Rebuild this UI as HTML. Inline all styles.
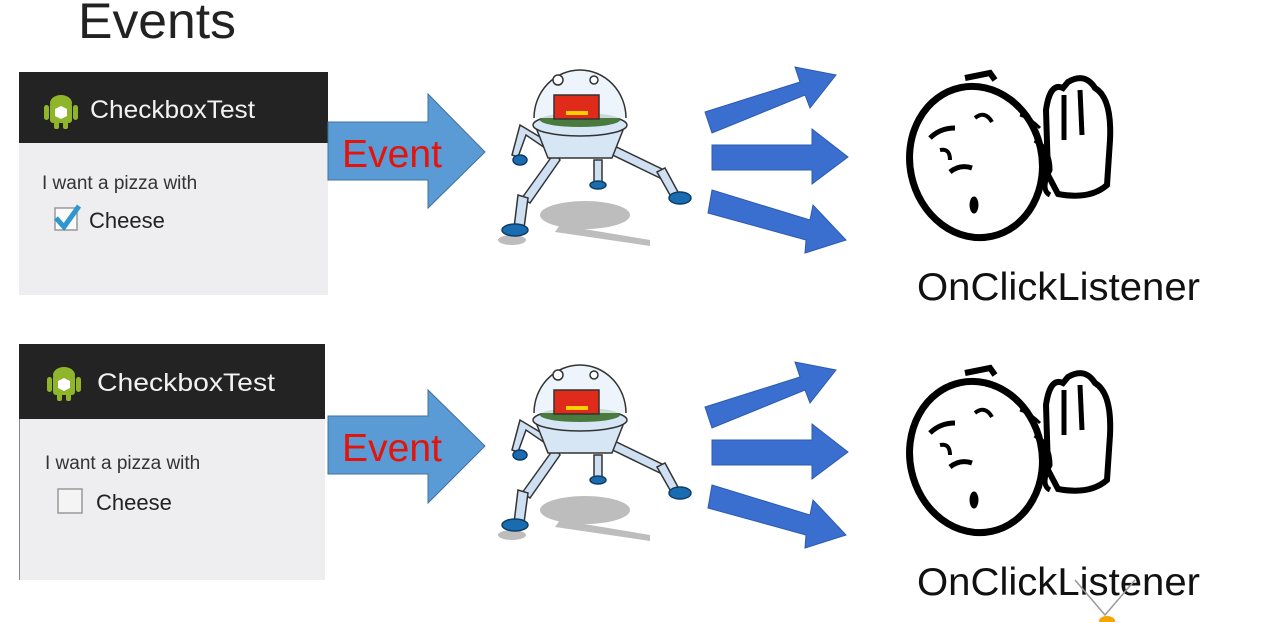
<!DOCTYPE html>
<html><head><meta charset="utf-8"><style>
html,body{margin:0;padding:0;background:#fff;}
svg{display:block;}
text{font-family:"Liberation Sans",sans-serif;}
</style></head><body>
<svg width="1278" height="622" viewBox="0 0 1278 622" xmlns="http://www.w3.org/2000/svg">
<defs>
<g id="robot">
  <ellipse cx="585" cy="215" rx="45" ry="14" fill="#bdbdbd"/>
  <path d="M560 225 L650 240 L650 246 L555 232Z" fill="#bdbdbd"/>
  <ellipse cx="512" cy="240" rx="14" ry="5" fill="#bdbdbd"/>
  <g stroke="#333" stroke-width="1.5" fill="#cfe0f3">
    <path d="M545 140 L520 125 L512 155 L518 157 L526 135 L545 148Z"/>
    <path d="M555 152 L522 198 L530 203 L560 160Z"/>
    <path d="M518 195 L514 228 L524 228 L528 198Z"/>
    <path d="M598 148 L660 178 L664 170 L602 140Z"/>
    <path d="M657 172 L670 195 L678 192 L665 168Z"/>
    <rect x="594" y="160" width="8" height="24"/>
  </g>
  <g fill="#1a6cb0" stroke="#0d3d66" stroke-width="1.5">
    <ellipse cx="515" cy="230" rx="13" ry="6"/>
    <ellipse cx="680" cy="198" rx="11" ry="6"/>
    <ellipse cx="598" cy="185" rx="8" ry="4"/>
    <ellipse cx="520" cy="160" rx="7" ry="5"/>
  </g>
  <path d="M535 125 L625 125 L612 158 L548 158Z" fill="#d6e6f5" stroke="#333" stroke-width="1.5"/>
  <ellipse cx="580" cy="125" rx="47" ry="11" fill="#d6e6f5" stroke="#333" stroke-width="1.5"/>
  <ellipse cx="580" cy="120" rx="40" ry="7" fill="#4a7a3e"/>
  <path d="M534 118 A46 48 0 1 1 626 118" fill="#e9f1fa" fill-opacity="0.8" stroke="#333" stroke-width="1.5"/>
  <rect x="554" y="95" width="45" height="24" fill="#e02a1a" stroke="#333" stroke-width="1.5"/>
  <rect x="566" y="111" width="22" height="4" fill="#ffd000"/>
  <circle cx="558" cy="80" r="5" fill="#fff" stroke="#333" stroke-width="1.5"/>
  <circle cx="594" cy="80" r="4" fill="#fff" stroke="#333" stroke-width="1.5"/>
</g>
<g id="arrows" fill="#3a6fd0" stroke="#2c5bb0" stroke-width="1">
  <path d="M705 112 L800 82 L795 67 L836 75 L810 108 L805 95 L712 133Z"/>
  <path d="M712 145 L812 145 L812 129 L848 157 L812 184 L812 170 L712 170Z"/>
  <path d="M712 190 L810 220 L813 205 L846 240 L805 253 L806 240 L708 213Z"/>
</g>
<g id="face" fill="none" stroke="#000">
  <ellipse cx="976" cy="162" rx="66" ry="76" transform="rotate(-12 976 162)" stroke-width="7" fill="#fff"/>
  <path d="M1048 175 L1046 110 Q1050 82 1063 88 L1068 82 Q1085 72 1095 88 Q1112 98 1110 140 L1107 185 Q1090 200 1058 194 Z" fill="#fff" stroke-width="6"/>
  <path d="M1064 95 L1064 140 M1080 90 L1082 135" stroke-width="5"/>
  <path d="M1035 140 Q1050 150 1050 170 Q1040 190 1050 195" stroke-width="5"/>
  <path d="M930 138 Q940 128 955 128" stroke-width="5"/>
  <path d="M975 118 Q985 110 992 122" stroke-width="4"/>
  <path d="M940 150 Q950 148 950 160" stroke-width="4"/>
  <path d="M950 172 Q960 164 972 168" stroke-width="5"/>
  <ellipse cx="974" cy="205" rx="4" ry="8" fill="#000"/>
  <path d="M965 78 L990 73 L995 80" stroke-width="6"/>
  <path d="M1020 115 Q1030 118 1040 128" stroke-width="3"/>
</g>
<g id="droid">
  <ellipse cx="0" cy="0" rx="11" ry="8" fill="#8fb52a"/>
  <rect x="-11" y="0" width="22" height="20" rx="3" fill="#8fb52a"/>
  <rect x="-17" y="2" width="5" height="15" rx="2.5" fill="#8fb52a"/>
  <rect x="12" y="2" width="5" height="15" rx="2.5" fill="#8fb52a"/>
  <rect x="-7" y="18" width="5" height="8" rx="2" fill="#8fb52a"/>
  <rect x="2" y="18" width="5" height="8" rx="2" fill="#8fb52a"/>
  <path d="M-6 6 L0 3 L6 6 L6 13 L0 16 L-6 13Z" fill="#fff"/>
</g>
</defs>

<text x="78" y="38" font-size="50" fill="#222" textLength="158" lengthAdjust="spacingAndGlyphs">Events</text>

<rect x="19" y="72" width="309" height="71" fill="#232323"/>
<rect x="19" y="143" width="309" height="152" fill="#eeeef0"/>
<use href="#droid" transform="translate(61 103)"/>
<text x="90" y="118" font-size="25" fill="#f2f2f2" textLength="165" lengthAdjust="spacingAndGlyphs">CheckboxTest</text>
<text x="42" y="189" font-size="19" fill="#333">I want a pizza with</text>
<rect x="55" y="208" width="22" height="22" fill="#fafafa" stroke="#999" stroke-width="1.5"/>
<path d="M56 218 L64 227 L79 206" fill="none" stroke="#2f97cf" stroke-width="5"/>
<text x="89" y="228" font-size="22" fill="#222">Cheese</text>

<path d="M328 122 L428 122 L428 94 L485 152 L428 208 L428 180 L328 180Z" fill="#5b9bd5" stroke="#41719c" stroke-width="1"/>
<text x="342" y="167" font-size="39" fill="#e3140b" textLength="100" lengthAdjust="spacingAndGlyphs">Event</text>

<use href="#robot"/>
<use href="#arrows"/>
<use href="#face"/>
<text x="917" y="300" font-size="39" fill="#111" textLength="283" lengthAdjust="spacingAndGlyphs">OnClickListener</text>

<rect x="19" y="344" width="306" height="75" fill="#232323"/>
<rect x="19" y="419" width="306" height="161" fill="#eeeef0"/>
<line x1="19.5" y1="419" x2="19.5" y2="580" stroke="#888"/>
<use href="#droid" transform="translate(64 375)"/>
<text x="97" y="391" font-size="25" fill="#f2f2f2" textLength="178" lengthAdjust="spacingAndGlyphs">CheckboxTest</text>
<text x="45" y="469" font-size="19" fill="#333">I want a pizza with</text>
<rect x="58" y="489" width="24" height="24" fill="#f4f4f4" stroke="#999" stroke-width="1.5"/>
<text x="96" y="510" font-size="22" fill="#222">Cheese</text>

<path d="M328 416 L428 416 L428 390 L485 446 L428 503 L428 474 L328 474Z" fill="#5b9bd5" stroke="#41719c" stroke-width="1"/>
<text x="342" y="461" font-size="39" fill="#e3140b" textLength="100" lengthAdjust="spacingAndGlyphs">Event</text>

<use href="#robot" transform="translate(0 295)"/>
<use href="#arrows" transform="translate(0 295)"/>
<use href="#face" transform="translate(0 295)"/>
<text x="917" y="595" font-size="39" fill="#111" textLength="283" lengthAdjust="spacingAndGlyphs">OnClickListener</text>
<path d="M1075 580 L1105 615 L1135 580" fill="none" stroke="#999" stroke-width="1.5"/>
<ellipse cx="1107" cy="621" rx="8" ry="5" fill="#f5a300"/>
</svg>
</body></html>
